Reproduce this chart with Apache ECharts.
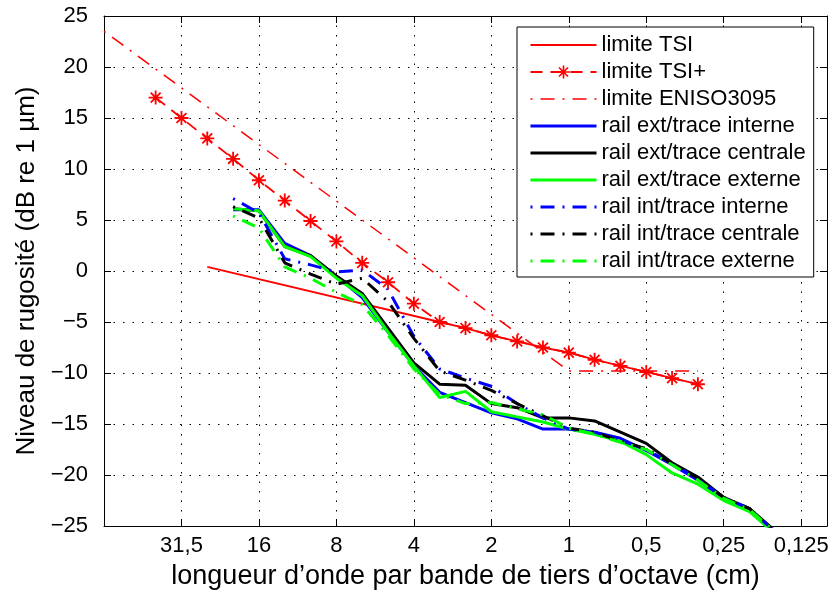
<!DOCTYPE html>
<html><head><meta charset="utf-8">
<script src="https://cdn.jsdelivr.net/npm/echarts@6/dist/echarts.min.js"></script>
<style>html,body{margin:0;padding:0;background:#fff}#c{width:838px;height:595px}</style>
</head><body><div id="c"></div>
<script>
// third-octave wavelength bands (cm), from left (long) to right (short)
const bandLabels = ['63','50','40','31,5','25','20','16','12,5','10','8','6,3','5','4','3,15','2,5','2','1,6','1,25','1','0,8','0,63','0,5','0,4','0,315','0,25','0,2','0,16','0,125','0,1'];
const tickLabels = ['31,5','16','8','4','2','1','0,5','0,25','0,125'];
const yMin = -25, yMax = 25, yStep = 5;

// limits
const tsiBands = ['25','3,15','2,5','2','1,6','1,25','1','0,8','0,63','0,5','0,4','0,315'];
const tsiValues = [0.4,-5.0,-5.6,-6.3,-6.9,-7.5,-8.0,-8.7,-9.3,-9.9,-10.5,-11.1];
const tsiPlusBands = ['40','31,5','25','20','16','12,5','10','8','6,3','5','4','3,15','2,5','2','1,6','1,25','1','0,8','0,63','0,5','0,4','0,315'];
const tsiPlusValues = [17.0,15.0,13.0,11.0,8.9,6.9,4.9,2.9,0.8,-1.1,-3.2,-5.0,-5.6,-6.3,-6.9,-7.5,-8.0,-8.7,-9.3,-9.9,-10.5,-11.1];
const isoBands = ['63','1','0,315'];
const isoValues = [23.5,-9.8,-9.8];

// measured spectra (bands 20 cm ... 0,16 cm)
const measBands = ['20','16','12,5','10','8','6,3','5','4','3,15','2,5','2','1,6','1,25','1','0,8','0,63','0,5','0,4','0,315','0,25','0,2','0,16'];
const extInterne  = [6.0,6.0,2.7,1.5,-0.5,-2.6,-6.0,-9.3,-11.9,-12.9,-13.9,-14.5,-15.5,-15.5,-15.8,-16.4,-17.6,-19.0,-20.5,-22.3,-23.4,-25.6];
const extCentrale = [6.1,5.9,2.4,1.5,-0.5,-2.2,-5.6,-9.0,-11.1,-11.2,-13.0,-13.4,-14.4,-14.4,-14.7,-15.8,-16.9,-18.8,-20.2,-22.2,-23.3,-25.5];
const extExterne  = [6.1,5.9,2.4,1.4,-0.7,-2.4,-6.0,-9.3,-12.4,-11.8,-13.8,-14.3,-14.8,-15.5,-16.0,-16.7,-18.0,-19.8,-20.9,-22.5,-23.6,-25.8];
const intInterne  = [7.1,5.7,1.2,0.6,-0.1,0.1,-1.8,-6.4,-9.6,-10.5,-11.3,-13.0,-14.4,-15.5,-15.8,-16.6,-17.5,-18.9,-20.4,-22.2,-23.3,-25.6];
const intCentrale = [6.3,5.2,0.8,-0.3,-1.3,-0.7,-3.0,-6.6,-9.8,-10.7,-11.7,-13.0,-14.2,-15.4,-15.8,-16.7,-17.4,-18.9,-20.3,-22.2,-23.3,-25.6];
const intExterne  = [5.4,4.2,0.4,-0.7,-2.1,-3.3,-6.3,-9.6,-12.1,-13.0,-12.9,-13.5,-14.1,-15.4,-16.0,-16.8,-17.5,-19.0,-20.5,-22.3,-23.4,-25.6];

const seriesNames = ['limite TSI','limite TSI+','limite ENISO3095','rail ext/trace interne','rail ext/trace centrale','rail ext/trace externe','rail int/trace interne','rail int/trace centrale','rail int/trace externe'];

function onBands(bands, values) {
  const out = bandLabels.map(() => null);
  bands.forEach((b, i) => { out[bandLabels.indexOf(b)] = values[i]; });
  return out;
}
const showTick = (idx) => tickLabels.indexOf(bandLabels[idx]) >= 0;

const FONT = 'Liberation Sans, Arial, Helvetica, sans-serif';
const star = 'path://M-0.13,-1L0.13,-1L0.13,1L-0.13,1Z M-1,-0.13L1,-0.13L1,0.13L-1,0.13Z M-0.615,-0.799L0.799,0.615L0.615,0.799L-0.799,-0.615Z M0.615,-0.799L0.799,-0.615L-0.615,0.799L-0.799,0.615Z';
const DASHDOT = [14,8,2,8];
const DASHDOT_OFFSET = 22;

function lineSeries(name, data, color, width, type, extra) {
  return Object.assign({
    name, type: 'line', data, connectNulls: true, symbol: 'none',
    lineStyle: {color, width, type, dashOffset: Array.isArray(type) && type.length === 4 ? DASHDOT_OFFSET : 0},
    itemStyle: {color},
    animation: false, silent: true, clip: true
  }, extra || {});
}

const chart = echarts.init(document.getElementById('c'), null, {renderer: 'canvas'});
chart.setOption({
  backgroundColor: '#fff',
  animation: false,
  textStyle: {fontFamily: FONT},
  grid: {left: 104, right: 11, top: 16, bottom: 67},
  legend: {
    orient: 'vertical', left: 517, top: 27,
    padding: [7, 8, 5, 12], itemGap: 5, itemWidth: 66, itemHeight: 16,
    backgroundColor: '#fff', borderColor: '#000', borderWidth: 1,
    lineStyle: {width: 'inherit'},
    textStyle: {fontFamily: FONT, fontSize: 22, color: '#000', lineHeight: 22},
    data: seriesNames.map(n => n === 'limite TSI+' ? {name: n} : {name: n, itemStyle: {opacity: 0}})
  },
  xAxis: [{
    type: 'category', data: bandLabels, boundaryGap: false, position: 'bottom',
    name: 'longueur d\u2019onde par bande de tiers d\u2019octave (cm)', nameLocation: 'middle', nameGap: 37,
    nameTextStyle: {fontFamily: FONT, fontSize: 27, color: '#000'},
    axisLine: {show: true, onZero: false, lineStyle: {color: '#000', width: 1}},
    axisTick: {show: true, inside: true, length: 7, interval: showTick, lineStyle: {color: '#000'}},
    axisLabel: {show: true, interval: showTick, fontFamily: FONT, fontSize: 22, color: '#000', margin: 9},
    splitLine: {show: true, interval: showTick, lineStyle: {color: '#000', width: 1, type: [1.5, 8]}}
  }, {
    type: 'category', data: bandLabels, boundaryGap: false, position: 'top',
    axisLine: {show: true, onZero: false, lineStyle: {color: '#000', width: 1}},
    axisTick: {show: true, inside: true, length: 7, interval: showTick, lineStyle: {color: '#000'}},
    axisLabel: {show: false}, splitLine: {show: false}
  }],
  yAxis: [{
    type: 'value', min: yMin, max: yMax, interval: yStep, position: 'left',
    name: 'Niveau de rugosit\u00e9 (dB re 1 \u00b5m)', nameLocation: 'middle', nameGap: 52, nameRotate: 90,
    nameTextStyle: {fontFamily: FONT, fontSize: 26, color: '#000'},
    axisLine: {show: true, onZero: false, lineStyle: {color: '#000', width: 1}},
    axisTick: {show: true, inside: true, length: 7, lineStyle: {color: '#000'}},
    axisLabel: {fontFamily: FONT, fontSize: 22, color: '#000', margin: 16,
      formatter: v => String(v).replace('-', '\u2212')},
    splitLine: {show: true, lineStyle: {color: '#000', width: 1, type: [1.5, 8]}}
  }, {
    type: 'value', min: yMin, max: yMax, interval: yStep, position: 'right',
    axisLine: {show: true, onZero: false, lineStyle: {color: '#000', width: 1}},
    axisTick: {show: true, inside: true, length: 7, lineStyle: {color: '#000'}},
    axisLabel: {show: false}, splitLine: {show: false}
  }],
  series: [
    lineSeries('limite TSI', onBands(tsiBands, tsiValues), '#ff0000', 1.8, 'solid'),
    lineSeries('limite TSI+', onBands(tsiPlusBands, tsiPlusValues), '#ff0000', 1.8, [12,8],
      {symbol: star, symbolSize: 14, symbolKeepAspect: true, showSymbol: true}),
    lineSeries('limite ENISO3095', onBands(isoBands, isoValues), '#ff0000', 1.5, DASHDOT),
    lineSeries('rail ext/trace interne', onBands(measBands, extInterne), '#0000ff', 3, 'solid'),
    lineSeries('rail ext/trace centrale', onBands(measBands, extCentrale), '#000000', 3, 'solid'),
    lineSeries('rail ext/trace externe', onBands(measBands, extExterne), '#00ff00', 3, 'solid'),
    lineSeries('rail int/trace interne', onBands(measBands, intInterne), '#0000ff', 3, DASHDOT),
    lineSeries('rail int/trace centrale', onBands(measBands, intCentrale), '#000000', 3, DASHDOT),
    lineSeries('rail int/trace externe', onBands(measBands, intExterne), '#00ff00', 3, DASHDOT)
  ]
});
</script></body></html>
